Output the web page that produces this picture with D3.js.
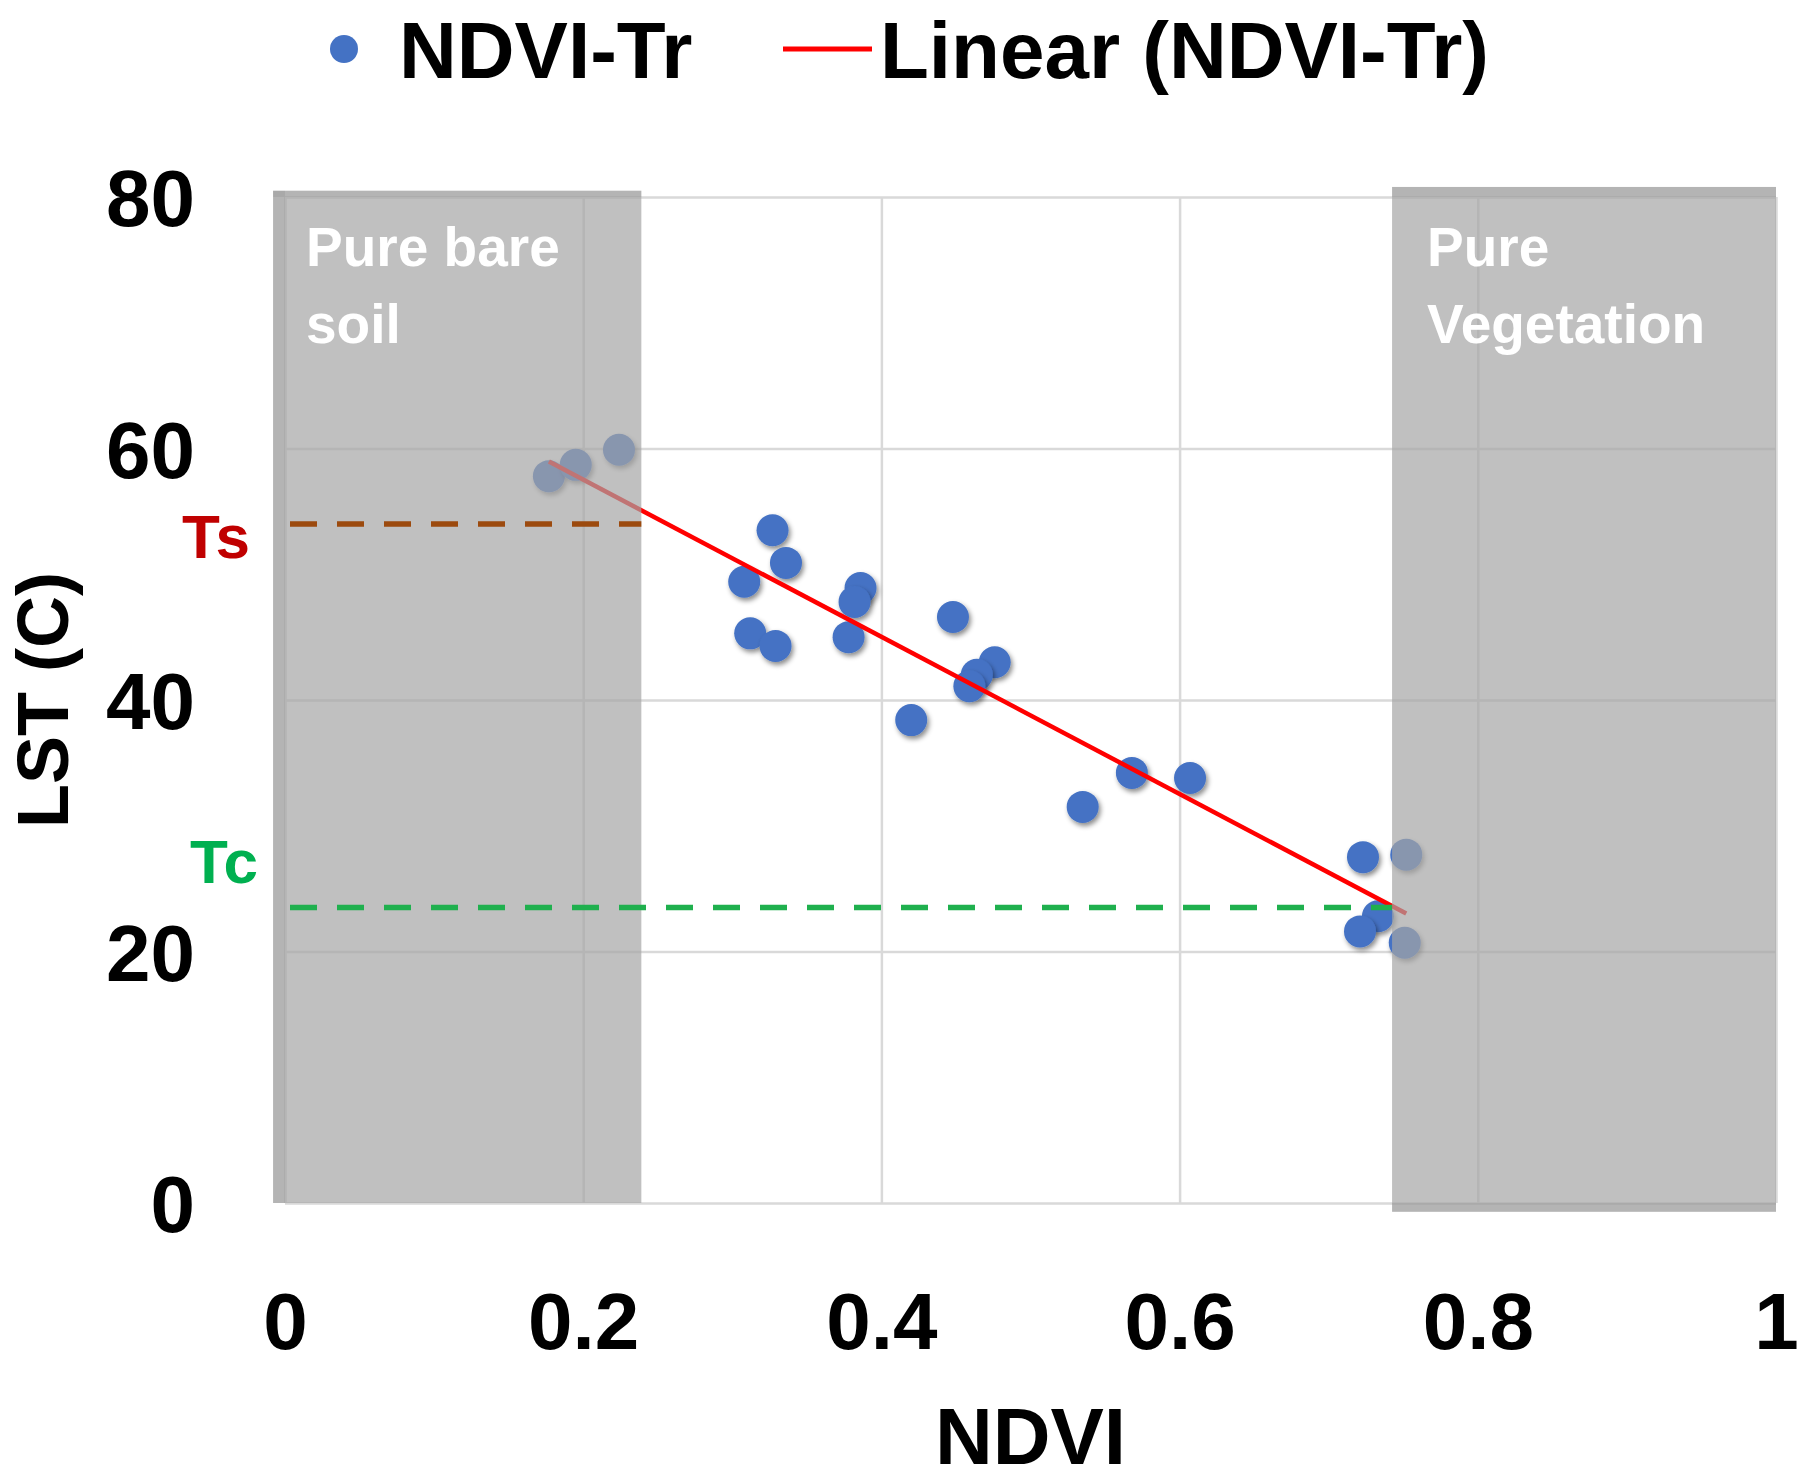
<!DOCTYPE html>
<html>
<head>
<meta charset="utf-8">
<script src="https://cdn.jsdelivr.net/npm/d3@7"></script>
<style>
  html, body { margin: 0; padding: 0; background: #ffffff; }
  svg { display: block; }
  text { font-family: 'Liberation Sans', Arial, sans-serif; font-weight: bold; }
</style>
</head>
<body>
<svg id="chart" width="1800" height="1481"></svg>
<script>
// ---------- data ----------
const ndvi = [0.177, 0.195, 0.224, 0.327, 0.336, 0.308, 0.312, 0.329, 0.386, 0.382, 0.378, 0.448,
              0.420, 0.476, 0.464, 0.459, 0.535, 0.568, 0.607, 0.723, 0.752, 0.733, 0.721, 0.751];
const lst  = [57.8, 58.7, 59.9, 53.5, 50.9, 49.4, 45.3, 44.3, 48.9, 47.8, 45.0, 46.6,
              38.4, 43.0, 42.0, 41.1, 31.5, 34.2, 33.8, 27.5, 27.7, 22.8, 21.6, 20.7];
const xTicks = [0, 0.2, 0.4, 0.6, 0.8, 1];
const xTickLabels = ["0", "0.2", "0.4", "0.6", "0.8", "1"];
const yTicks = [0, 20, 40, 60, 80];
const yTickLabels = ["0", "20", "40", "60", "80"];
const bandNames = ["Pure bare soil", "Pure Vegetation"];
const bandLines = [["Pure bare", "soil"], ["Pure", "Vegetation"]];
const bandX = [[-0.008, 0.239], [0.7425, 1.0]];
const bandY = [[0, 80.5], [-0.7, 80.8]];
const refNames = ["Ts", "Tc"];
const refValues = [54, 23.5];
const refXEnd = [0.239, 0.7425];
const seriesName = "NDVI-Tr";
const trendName = "Linear (NDVI-Tr)";
const xTitle = "NDVI";
const yTitle = "LST (C)";

// ---------- layout ----------
const W = 1800, H = 1481;
const M = { left: 285, right: 24, top: 197, bottom: 278 };
const svg = d3.select("#chart");
const x = d3.scaleLinear().domain([0, 1]).range([M.left, W - M.right]);
const y = d3.scaleLinear().domain([0, 80]).range([H - M.bottom, M.top]);

const defs = svg.append("defs");
const f = defs.append("filter").attr("id", "shadow")
  .attr("x", "-50%").attr("y", "-50%").attr("width", "200%").attr("height", "200%");
f.append("feDropShadow").attr("dx", 2).attr("dy", 3).attr("stdDeviation", 2.5)
  .attr("flood-color", "#000").attr("flood-opacity", 0.45);

// gridlines
svg.append("g")
  .attr("transform", `translate(0,${y(0)})`)
  .call(d3.axisBottom(x).tickValues(xTicks).tickSize(-(y(0) - y(80))).tickFormat(""))
  .call(g => g.select(".domain").remove())
  .call(g => g.selectAll("line").attr("stroke", "#d9d9d9").attr("stroke-width", 2.5));
svg.append("g")
  .attr("transform", `translate(${x(0)},0)`)
  .call(d3.axisLeft(y).tickValues(yTicks).tickSize(-(x(1) - x(0))).tickFormat(""))
  .call(g => g.select(".domain").remove())
  .call(g => g.selectAll("line").attr("stroke", "#d9d9d9").attr("stroke-width", 2.5));

// points
const pts = ndvi.map((v, i) => ({ x: v, y: lst[i] }));
svg.append("g").selectAll("circle").data(pts).join("circle")
  .attr("cx", d => x(d.x)).attr("cy", d => y(d.y)).attr("r", 16)
  .attr("fill", "#4472c4").attr("filter", "url(#shadow)");

// linear trend (least squares)
const mx = d3.mean(ndvi), my = d3.mean(lst);
const sxy = d3.sum(ndvi, (v, i) => (v - mx) * (lst[i] - my));
const sxx = d3.sum(ndvi, v => (v - mx) * (v - mx));
const slope = sxy / sxx, icpt = my - slope * mx;
const [xmin, xmax] = d3.extent(ndvi);
svg.append("path")
  .datum([xmin, xmax].map(v => [v, icpt + slope * v]))
  .attr("d", d3.line().x(d => x(d[0])).y(d => y(d[1])))
  .attr("stroke", "#ff0000").attr("stroke-width", 4.5).attr("fill", "none");

// gray bands
const bands = svg.append("g");
bandX.forEach((bx, i) => {
  const x0 = x(bx[0]), x1 = x(bx[1]), y0 = y(bandY[i][1]), y1 = y(bandY[i][0]);
  bands.append("rect").attr("x", x0).attr("y", y0).attr("width", x1 - x0).attr("height", y1 - y0)
    .attr("fill", "#a5a5a5").attr("fill-opacity", 0.7);
  // darker edge strips
  bands.append("rect").attr("x", x0).attr("y", y0).attr("width", x1 - x0).attr("height", y(80) - y0)
    .attr("fill", "#000").attr("fill-opacity", 0.06);
  if (i === 0) {
    bands.append("rect").attr("x", x0).attr("y", y0).attr("width", x(0) - x0).attr("height", y1 - y0)
      .attr("fill", "#000").attr("fill-opacity", 0.06);
  } else {
    bands.append("rect").attr("x", x0).attr("y", y(0)).attr("width", x1 - x0).attr("height", y1 - y(0))
      .attr("fill", "#000").attr("fill-opacity", 0.06);
  }
});

// reference dashed lines
const refColors = ["#9c4a0e", "#1fb04e"];
const labelColors = ["#c00000", "#00b050"];
refValues.forEach((v, i) => {
  svg.append("line")
    .attr("x1", x(0) + 5).attr("x2", x(refXEnd[i]))
    .attr("y1", y(v)).attr("y2", y(v))
    .attr("stroke", refColors[i]).attr("stroke-width", 5.5)
    .attr("stroke-dasharray", "27 20");
});
svg.append("text").attr("x", 216).attr("y", y(refValues[0]) + 34)
  .attr("text-anchor", "middle").attr("font-size", 62).attr("fill", labelColors[0]).text(refNames[0]);
svg.append("text").attr("x", 224).attr("y", y(refValues[1]) - 24)
  .attr("text-anchor", "middle").attr("font-size", 62).attr("fill", labelColors[1]).text(refNames[1]);

// band labels
const bandTextX = [306, 1427];
bandLines.forEach((lines, i) => {
  const t = svg.append("text").attr("fill", "#ffffff").attr("font-size", 55);
  lines.forEach((ln, j) => {
    t.append("tspan").attr("x", bandTextX[i]).attr("y", 266 + j * 77).text(ln);
  });
});

// axes tick labels
svg.append("g")
  .attr("transform", `translate(0,${y(0)})`)
  .call(d3.axisBottom(x).tickValues(xTicks).tickSize(0).tickPadding(0)
        .tickFormat((d, i) => xTickLabels[i]))
  .call(g => g.select(".domain").remove())
  .call(g => g.selectAll("text").attr("font-size", 80).attr("fill", "#000")
        .attr("dy", null).attr("y", 146)
        .style("font-family", "'Liberation Sans', Arial, sans-serif").style("font-weight", "bold"));
svg.append("g")
  .attr("transform", `translate(${x(0)},0)`)
  .call(d3.axisLeft(y).tickValues(yTicks).tickSize(0).tickPadding(0)
        .tickFormat((d, i) => yTickLabels[i]))
  .call(g => g.select(".domain").remove())
  .call(g => g.selectAll("text").attr("font-size", 80).attr("fill", "#000")
        .attr("x", -90).attr("dy", "0.36em")
        .style("font-family", "'Liberation Sans', Arial, sans-serif").style("font-weight", "bold"));

// axis titles
svg.append("text").attr("x", (x(0) + x(1)) / 2).attr("y", 1464)
  .attr("text-anchor", "middle").attr("font-size", 80).attr("fill", "#000").text(xTitle);
svg.append("text").attr("transform", `translate(68,${(y(0) + y(80)) / 2}) rotate(-90)`)
  .attr("text-anchor", "middle").attr("font-size", 72).attr("fill", "#000").text(yTitle);

// legend
const lg = svg.append("g");
lg.append("circle").attr("cx", 344).attr("cy", 49).attr("r", 14).attr("fill", "#4472c4");
lg.append("text").attr("x", 399).attr("y", 78).attr("font-size", 80).attr("fill", "#000").text(seriesName);
lg.append("line").attr("x1", 783).attr("x2", 872).attr("y1", 49).attr("y2", 49)
  .attr("stroke", "#ff0000").attr("stroke-width", 5);
lg.append("text").attr("x", 880).attr("y", 78).attr("font-size", 80).attr("fill", "#000").text(trendName);
</script>
</body>
</html>
